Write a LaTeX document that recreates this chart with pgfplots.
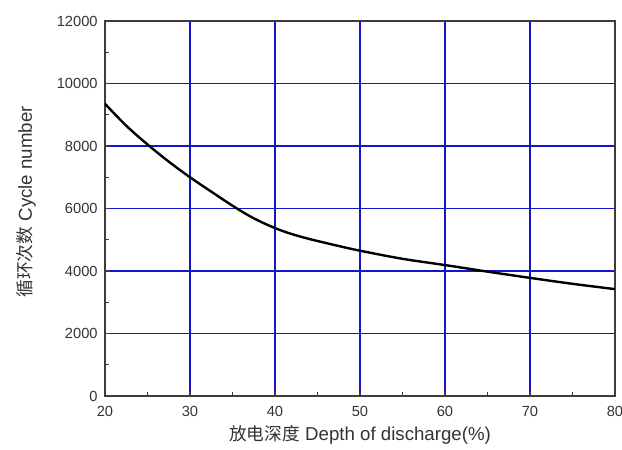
\documentclass[border=0pt]{standalone}
\usepackage{fontspec}
\setmainfont{Liberation Sans}
\newfontfamily\cjk{Noto Sans CJK SC}[Scale=0.95]
\usepackage{pgfplots}
\pgfplotsset{compat=1.18}
\definecolor{gridblue}{RGB}{20,20,200}
\definecolor{axgray}{RGB}{60,60,60}

\begin{document}
\begin{tikzpicture}
\begin{axis}[
    scale only axis,
    width=382.5pt, height=281.25pt,
    xmin=20, xmax=80, ymin=0, ymax=12000,
    xtick={20,30,...,80},
    ytick={0,2000,...,12000},
    minor x tick num=1, minor y tick num=1,
    tick align=inside,
    major tick length=4pt, minor tick length=3pt,
    xtick pos=bottom, ytick pos=left,
    grid=major,
    grid style={gridblue, line width=1pt},
    axis line style={axgray, line width=1.1pt},
    every tick/.style={axgray, line width=0.9pt},
    scaled y ticks=false,
    /pgf/number format/assume math mode=true,
    /pgf/number format/1000 sep={},
    tick label style={font=\fontsize{11}{13}\selectfont, text=black!80},
    xticklabel style={yshift=-4pt},
    yticklabel style={xshift=-2pt},
    xlabel={{\cjk 放电深度} Depth of discharge(\%)},
    ylabel={{\cjk 循环次数} Cycle number},
    label style={font=\fontsize{14}{16}\selectfont, text=black!80},
    xlabel style={yshift=0pt},
    ylabel style={yshift=9pt, xshift=5pt},
]
\addplot[black, line width=1.8pt, smooth, tension=0.6] coordinates {
    (20,9350) (22.5,8650) (25,8050) (27.5,7500) (30,7000) (32.5,6540)
    (35,6090) (37,5760) (39,5490) (41,5270) (43,5100) (45,4960) (47.5,4800)
    (50,4650) (55,4390) (60,4190) (65,3980) (70,3780) (75,3590) (80,3420)
};
\end{axis}
\pgfresetboundingbox
\useasboundingbox ([xshift=-78.75pt,yshift=-40.5pt]current axis.south west)
    rectangle ([xshift=5.25pt,yshift=15.75pt]current axis.north east);
\end{tikzpicture}
\end{document}
